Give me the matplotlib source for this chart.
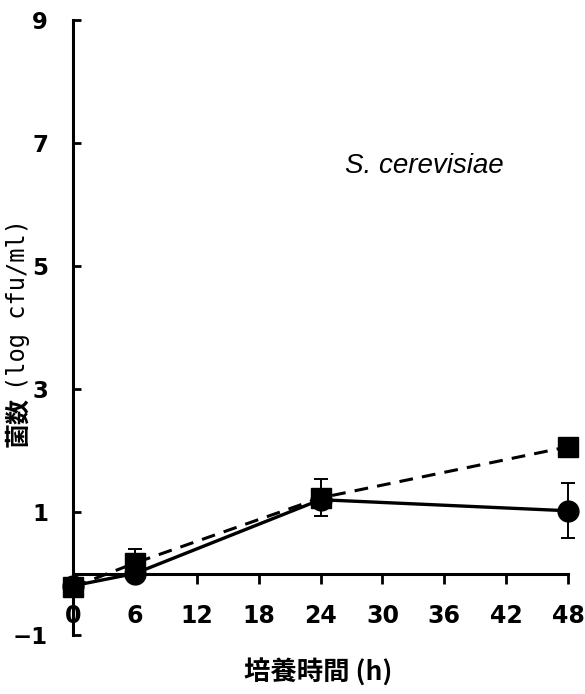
import matplotlib
matplotlib.use("Agg")
import matplotlib.pyplot as plt

# ---------------------------------------------------------------------------
# Data
# ---------------------------------------------------------------------------
time_h = [0, 6, 24, 48]

# solid line, circles
circle_y = [-0.20, 0.00, 1.20, 1.02]
circle_err = [0.0, 0.0, 0.0, 0.45]

# dashed line, squares
square_y = [-0.22, 0.17, 1.23, 2.06]
square_err = [0.0, 0.23, 0.30, 0.0]

x_ticks = [0, 6, 12, 18, 24, 30, 36, 42, 48]
y_ticks = [-1, 1, 3, 5, 7, 9]

W, H = 585, 694
TICK_FONT = ["DejaVu Sans"]
CJK_FONT = ["Noto Sans CJK JP", "DejaVu Sans"]

fig = plt.figure(figsize=(W / 100, H / 100), dpi=100)
ax = fig.add_axes([73 / W, (H - 635) / H, 495 / W, 615 / H])

# circles first so squares sit on top
ax.errorbar(time_h, circle_y, yerr=circle_err, color="black", lw=2.4,
            marker="o", ms=15, capsize=5, elinewidth=1.4, capthick=1.4,
            clip_on=False, zorder=3)
ax.errorbar(time_h, square_y, yerr=square_err, color="black", lw=2.2,
            ls=(0, (4.5, 3.0)), marker="s", ms=14, capsize=5,
            elinewidth=1.4, capthick=1.4, clip_on=False, zorder=4)

ax.set_xlim(0, 48)
ax.set_ylim(-1, 9)
ax.set_xticks(x_ticks)
ax.set_yticks(y_ticks)

ax.spines["top"].set_visible(False)
ax.spines["right"].set_visible(False)
ax.spines["bottom"].set_position(("data", 0))
for s in ("left", "bottom"):
    ax.spines[s].set_linewidth(2.2)

ax.tick_params(axis="y", direction="in", length=6, width=2, pad=18)
ax.tick_params(axis="x", direction="out", length=7, width=2, pad=15)
for lab in ax.get_xticklabels():
    lab.set_fontfamily(TICK_FONT)
    lab.set_fontweight("bold")
    lab.set_fontsize(17)
for lab in ax.get_yticklabels():
    lab.set_fontfamily(TICK_FONT)
    lab.set_fontweight("bold")
    lab.set_fontsize(16.5)

ax.text(26.4, 6.51, "S. cerevisiae", fontsize=20, style="italic",
        family=["Liberation Sans", "DejaVu Sans"], ha="left", va="baseline")

# y label: bold CJK part + thin monospace part
fig.text(18 / W, (H - 447) / H, "菌数", rotation=90, ha="center", va="bottom",
         fontsize=18, fontweight="bold", family=CJK_FONT)
fig.text(18 / W, (H - 390) / H, "(log cfu/ml)", rotation=90, ha="center",
         va="bottom", fontsize=17, family=["DejaVu Sans Mono"])

fig.text(318 / W, (H - 673) / H, "培養時間 (h)", ha="center", va="center",
         fontsize=19, fontweight="bold", family=CJK_FONT)

fig.savefig("out.png", dpi=100)
